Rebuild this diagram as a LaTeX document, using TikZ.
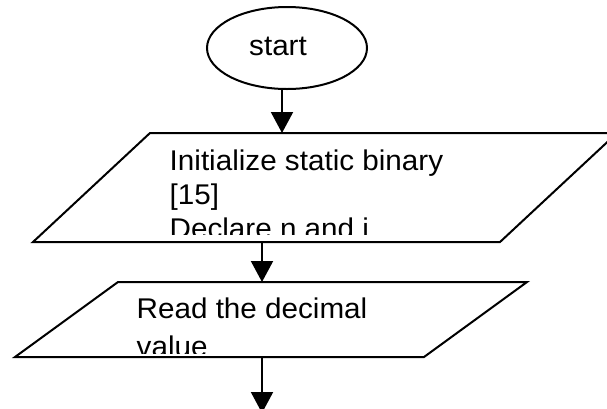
\documentclass[tikz,border=0pt]{standalone}
\usepackage{fontspec}
\setmainfont[FakeStretch=1.04]{Liberation Sans}
\usetikzlibrary{arrows.meta,shapes.geometric}
\begin{document}
\begin{tikzpicture}[x=1pt,y=-1pt,
  outline/.style={draw=black,line width=2pt,line join=miter},
  terminal/.style={outline,ellipse,minimum width=160pt,minimum height=82pt,inner sep=0pt},
  txt/.style={inner sep=0pt,anchor=base west,font=\fontsize{28.5}{34}\selectfont},
  flow/.style={draw=black,line width=2pt,-{Triangle[length=21pt,width=22pt]}}]
  \useasboundingbox (0,0) rectangle (607,408);
  \clip (0,0) rectangle (607,408);

  % start terminal
  \node[terminal] (start) at (287,48) {};
  \node[txt] (startlbl) at (249,55) {start};

  % first input/output block
  \coordinate (p1bl) at (33,242);
  \coordinate (p1tl) at (150,133);
  \coordinate (p1tr) at (617,133);
  \coordinate (p1br) at (500,242);
  \draw[outline] (p1bl) -- (p1tl) -- (p1tr) -- (p1br) -- cycle;
  \begin{scope}
    \clip (0,133) rectangle (607,234.5);
    \node[txt] (init1) at (169.5,170.7) {Initialize static binary};
    \node[txt] (init2) at (169.5,204.3) {[15]};
    \node[txt] (init3) at (169.5,238.5) {Declare n and i};
  \end{scope}

  % second input/output block
  \coordinate (p2bl) at (15,357);
  \coordinate (p2tl) at (118,282);
  \coordinate (p2tr) at (527,282);
  \coordinate (p2br) at (424,357);
  \draw[outline] (p2bl) -- (p2tl) -- (p2tr) -- (p2br) -- cycle;
  \begin{scope}
    \clip (0,282) rectangle (607,353);
    \node[txt] (read1) at (136.5,318.3) {Read the decimal};
    \node[txt] (read2) at (136.5,356.5) {value};
  \end{scope}

  % connectors
  \coordinate (a1) at (282,0);
  \coordinate (a2) at (262,0);
  \coordinate (next) at (262,413);
  \draw[flow] (start.south -| a1) -- (p1tl -| a1);
  \draw[flow] (p1bl -| a2) -- (p2tl -| a2);
  \draw[flow] (p2bl -| a2) -- (next);
\end{tikzpicture}
\end{document}
